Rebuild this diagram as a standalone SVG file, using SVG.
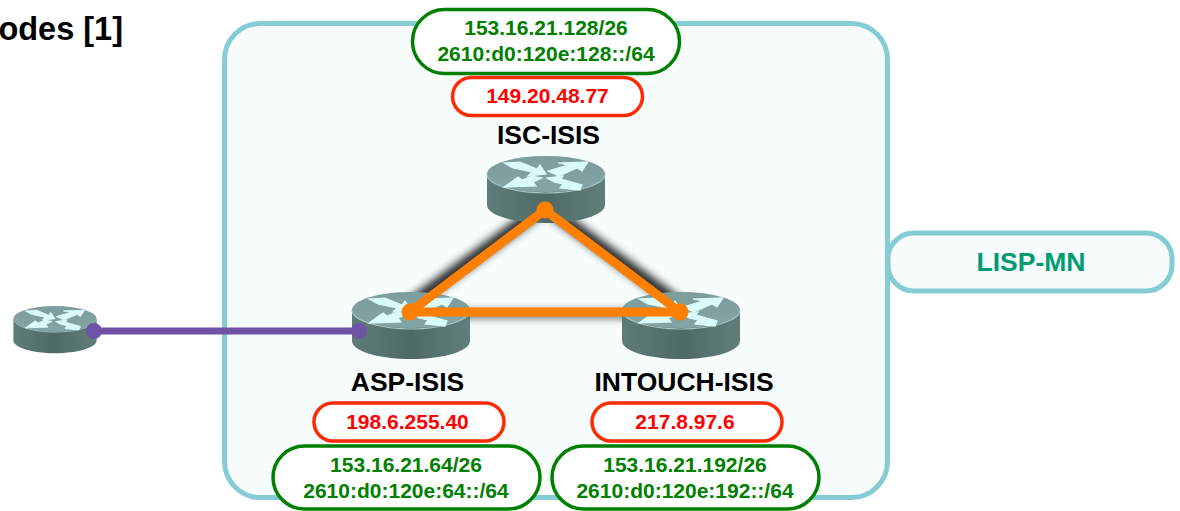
<svg xmlns="http://www.w3.org/2000/svg" width="1180" height="511" viewBox="0 0 1180 511">
<style>
text{font-family:"Liberation Sans",Arial,sans-serif;font-weight:bold;text-anchor:middle}
.g{fill:#fff;stroke:#008000;stroke-width:3.5}
.r{fill:#fff;stroke:#ff2a00;stroke-width:3.5}
.gt{fill:#008000;font-size:21px}
.rt{fill:#ff0000;font-size:21px}
.lb{fill:#000;font-size:26.500px}
.cyan{fill:#f7fdfd;stroke:#86ccd4;stroke-width:5}
.or{stroke:#ff7f00;stroke-width:9;stroke-linecap:round;fill:none}
.sh{stroke:#000;stroke-width:13;fill:none;filter:url(#blur);opacity:.85}
</style>
<defs>
<filter id="blur" x="300" y="150" width="480" height="220" filterUnits="userSpaceOnUse"><feGaussianBlur stdDeviation="4.500"/></filter>
<linearGradient id="top" x1="0" y1="0" x2="0" y2="1"><stop offset="0" stop-color="#7d9c9c"/><stop offset="1" stop-color="#84a5a5"/></linearGradient>
<linearGradient id="side" x1="0" y1="0" x2="1" y2="0"><stop offset="0" stop-color="#5f7c78"/><stop offset=".5" stop-color="#4f6a66"/><stop offset="1" stop-color="#617e7a"/></linearGradient>
<g id="router">
<path d="M-59 18V49C-59 59-33 67 0 67S59 59 59 49V18Z" fill="url(#side)"/>
<ellipse cx="0" cy="18" rx="59" ry="18" fill="url(#top)"/>
<path d="M-59 18C-59 28-33 37 0 37S59 28 59 18" fill="none" stroke="#a9c4c4" stroke-width="1.2"/>
<g fill="#d9fbfb" stroke="#d9fbfb" stroke-width="1.2">
<path d="M-42 7-26 6-9 13-6 9 0 18-18 20-14 16-33 12Z"/>
<path d="M2 15 22 9 12 7 42 6 36 15 31 12 13 20Z"/>
<path d="M-4 22-13 26-10 30-42 31-28 21-24 24-14 20Z"/>
<path d="M1 22 17 20 15 23 36 29 34 34 14 32 17 28 8 26Z"/>
</g>
</g>
</defs>
<text x="123" y="40" style="font-size:32.500px;text-anchor:end">odes [1]</text>
<rect class="cyan" x="224.500" y="23.500" width="663" height="474" rx="36"/>
<g id="connectors">
<line class="sh" x1="545" y1="206" x2="406" y2="308"/>
<line class="sh" x1="545" y1="206" x2="684" y2="308"/>
<line x1="410" y1="314" x2="680" y2="314" stroke="#000" stroke-width="7" opacity=".7" filter="url(#blur)"/>
</g>
<g id="node-isc">
<use href="#router" x="546" y="156"/>
<text class="lb" x="548.500" y="144">ISC-ISIS</text>
<rect class="r" x="452.500" y="77.500" width="190" height="38" rx="19"/>
<text class="rt" x="547.500" y="103">149.20.48.77</text>
<rect class="g" x="412.500" y="9.500" width="267" height="64" rx="32"/>
<text class="gt" x="546" y="35">153.16.21.128/26</text>
<text class="gt" x="546" y="61">2610:d0:120e:128::/64</text>
</g>
<g id="node-asp">
<use href="#router" x="411" y="292"/>
<text class="lb" x="407.500" y="391">ASP-ISIS</text>
<rect class="r" x="314" y="403" width="190" height="38" rx="19"/>
<text class="rt" x="407.500" y="429">198.6.255.40</text>
<rect class="g" x="273" y="446" width="267" height="63" rx="31.500"/>
<text class="gt" x="406" y="472">153.16.21.64/26</text>
<text class="gt" x="406" y="498">2610:d0:120e:64::/64</text>
</g>
<g id="node-intouch">
<use href="#router" x="681" y="292"/>
<text class="lb" x="684" y="391">INTOUCH-ISIS</text>
<rect class="r" x="592" y="403" width="190" height="38" rx="19"/>
<text class="rt" x="685" y="429">217.8.97.6</text>
<rect class="g" x="552" y="446" width="267" height="63" rx="31.500"/>
<text class="gt" x="685" y="472">153.16.21.192/26</text>
<text class="gt" x="685" y="498">2610:d0:120e:192::/64</text>
</g>
<g id="node-ext">
<use href="#router" transform="translate(55 306) scale(.705)"/>
</g>
<g id="node-lisp">
<rect class="cyan" x="888" y="233" width="284" height="58" rx="26"/>
<text x="1031" y="271" style="fill:#009b72;font-size:26.500px">LISP-MN</text>
</g>
<g id="links">
<line class="or" x1="410" y1="312" x2="680" y2="312"/>
<line class="or" x1="545" y1="210" x2="410" y2="312"/>
<line class="or" x1="545" y1="210" x2="680" y2="312"/>
<circle cx="545" cy="210" r="8.500" fill="#ff7f00"/>
<circle cx="410" cy="312" r="8.500" fill="#ff7f00"/>
<circle cx="680" cy="312" r="8.500" fill="#ff7f00"/>
<line x1="94" y1="331" x2="359" y2="331" stroke="#6f52a5" stroke-width="7"/>
<circle cx="94" cy="331" r="8" fill="#6f52a5"/>
<circle cx="359" cy="331" r="8" fill="#6f52a5"/>
</g>
</svg>
